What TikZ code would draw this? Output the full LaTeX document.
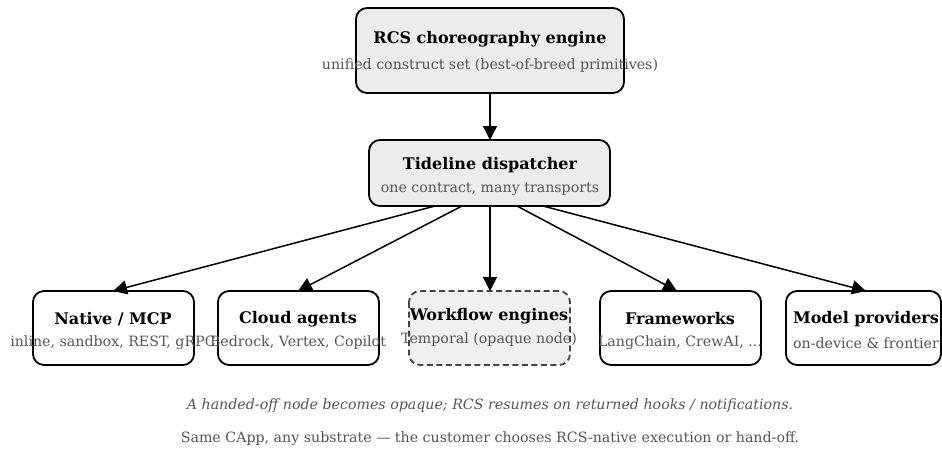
\documentclass[tikz,border=0pt]{standalone}
\usepackage{fontspec}
\setmainfont{DejaVu Serif}
\usetikzlibrary{arrows.meta}
\definecolor{boxfill}{HTML}{ECECEC}
\definecolor{optfill}{HTML}{F0F0F0}
\definecolor{subgray}{HTML}{555555}
\definecolor{dashgray}{HTML}{444444}
\tikzset{
  box/.style={draw=black, line width=1.8pt, rounded corners=11pt, fill=white},
  corebox/.style={box, fill=boxfill},
  optbox/.style={box, draw=dashgray, dash pattern=on 6pt off 3.5pt, fill=optfill},
  ttl/.style={font=\bfseries\fontsize{16}{18}\selectfont, inner sep=0pt},
  sub/.style={text=subgray, font=\fontsize{14.2}{16}\selectfont, inner sep=0pt},
  flow/.style={line width=1.5pt, -{Triangle[length=14pt, width=14pt]}},
  note/.style={text=subgray, font=\fontsize{14.2}{16}\selectfont, inner sep=0pt}
}
\begin{document}
\begin{tikzpicture}[x=1pt, y=-1pt]
\useasboundingbox (0,0) rectangle (942,448);

% engine and dispatcher
\draw[corebox] (356,8) rectangle (624,93);
\node[ttl] (engT) at (490,39) {RCS choreography engine};
\node[sub] (engS) at (490,66) {unified construct set (best-of-breed primitives)};
\coordinate (engB) at (490,93);

\draw[corebox] (369,140) rectangle (610,206);
\node[ttl] (dspT) at (490,165) {Tideline dispatcher};
\node[sub] (dspS) at (490,189) {one contract, many transports};
\coordinate (dspTop) at (490,140);

% substrates
\draw[box] (33,291) rectangle (194,365);
\node[ttl] (natT) at (113,319) {Native / MCP};
\node[sub] (natS) at (113,343) {inline, sandbox, REST, gRPC};

\draw[box] (218,291) rectangle (379,365);
\node[ttl] (clT) at (298,319) {Cloud agents};
\node[sub] (clS) at (298,343) {Bedrock, Vertex, Copilot};

\draw[optbox] (409,291) rectangle (570,365);
\node[ttl] (wfT) at (489,316) {Workflow engines};
\node[sub] (wfS) at (489,340) {Temporal (opaque node)};

\draw[box] (600,291) rectangle (761,365);
\node[ttl] (fwT) at (680,319) {Frameworks};
\node[sub] (fwS) at (680,343) {LangChain, CrewAI, ...};

\draw[box] (786,291) rectangle (941,365);
\node[ttl] (mpT) at (866,319) {Model providers};
\node[sub] (mpS) at (866,343) {on-device \& frontier};

% connectors
\coordinate (d1) at (435,206);
\coordinate (d2) at (462,206);
\coordinate (d3) at (490,206);
\coordinate (d4) at (517,206);
\coordinate (d5) at (543,206);
\coordinate (t1) at (113,291);
\coordinate (t2) at (298,291);
\coordinate (t3) at (490,291);
\coordinate (t4) at (677,291);
\coordinate (t5) at (866,291);

\draw[flow] (engB) -- (dspTop);
\draw[flow] (d1) -- (t1);
\draw[flow] (d2) -- (t2);
\draw[flow] (d3) -- (t3);
\draw[flow] (d4) -- (t4);
\draw[flow] (d5) -- (t5);

% notes
\node[note, font=\itshape\fontsize{14.2}{16}\selectfont] (n1) at (490,406) {A handed-off node becomes opaque; RCS resumes on returned hooks / notifications.};
\node[note] (n2) at (490,439) {Same CApp, any substrate — the customer chooses RCS-native execution or hand-off.};
\end{tikzpicture}
\end{document}
